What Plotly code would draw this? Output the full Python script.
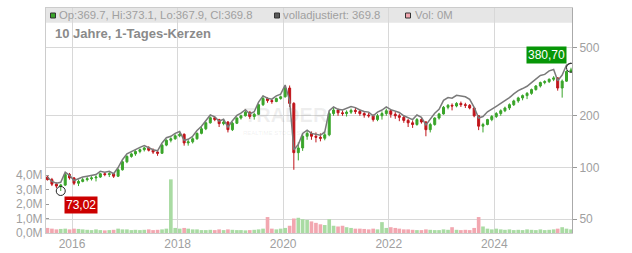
import math
import plotly.graph_objects as go

# ---------------- data (monthly) ----------------
months = [f"{y}-{m:02d}-15" for y in range(2015, 2026) for m in range(1, 13)][6:126]

open_ = [88, 85, 80, 78, 79, 91,
         87, 81, 83, 85, 86, 87, 88, 92, 91, 92, 89, 97,
         108, 116, 120, 124, 127, 130, 126, 123, 121, 135, 144, 147,
         153, 156, 139, 141, 147, 158, 168, 182, 195, 190, 180, 184,
         166, 181, 194, 200, 210, 198, 204, 232, 252, 245, 242, 252,
         258, 290, 236, 122, 130, 152, 158, 152, 150, 148, 155, 206,
         216, 208, 206, 210, 215, 212, 206, 202, 200, 190, 200, 206,
         214, 204, 200, 196, 188, 182, 178, 190, 184, 166, 178, 194,
         205, 224, 230, 228, 236, 232, 230, 222, 200, 174, 178, 190,
         198, 206, 214, 222, 232, 244, 254, 262, 270, 284, 298, 312,
         316, 326, 332, 290, 318, 362]
high = [90, 87, 82, 80, 93, 93,
        88, 85, 87, 88, 89, 90, 93, 94, 94, 93, 99, 110,
        118, 122, 126, 129, 132, 133, 129, 125, 137, 146, 150, 156,
        160, 158, 145, 150, 160, 172, 185, 198, 198, 192, 190, 186,
        184, 196, 203, 214, 212, 208, 235, 262, 256, 250, 255, 262,
        295, 300, 240, 140, 158, 165, 162, 160, 158, 160, 212, 222,
        220, 215, 215, 220, 222, 218, 210, 208, 204, 205, 212, 220,
        218, 210, 206, 200, 192, 188, 194, 196, 186, 182, 196, 208,
        228, 234, 236, 240, 242, 238, 234, 224, 202, 182, 192, 202,
        210, 218, 226, 236, 248, 258, 266, 275, 288, 302, 316, 322,
        330, 340, 336, 325, 368, 380.7]
low = [84, 78, 76, 73.02, 78, 85,
       79, 78, 82, 83, 84, 83, 87, 89, 88, 87, 88, 96,
       106, 114, 117, 121, 124, 124, 120, 117, 120, 133, 140, 145,
       150, 134, 134, 138, 145, 156, 165, 180, 186, 172, 176, 160,
       163, 179, 190, 198, 192, 190, 202, 228, 238, 235, 240, 248,
       255, 225, 97, 110, 125, 145, 145, 140, 142, 144, 152, 200,
       200, 200, 198, 205, 205, 200, 195, 195, 185, 186, 190, 200,
       195, 192, 186, 182, 172, 170, 175, 180, 152, 160, 175, 190,
       203, 218, 215, 224, 225, 222, 218, 196, 165, 160, 176, 186,
       194, 200, 210, 216, 228, 238, 246, 250, 265, 280, 292, 305,
       310, 318, 280, 255, 315, 355]
close = [85, 80, 78, 79, 91, 87,
         81, 83, 85, 86, 87, 88, 92, 91, 92, 89, 97, 108,
         116, 120, 124, 127, 130, 126, 123, 121, 135, 144, 147, 153,
         156, 139, 141, 147, 158, 168, 182, 195, 190, 180, 184, 166,
         181, 194, 200, 210, 198, 204, 232, 252, 245, 242, 252, 258,
         290, 236, 122, 130, 152, 158, 152, 150, 148, 155, 206, 216,
         208, 206, 210, 215, 212, 206, 202, 200, 190, 200, 206, 214,
         204, 200, 196, 188, 182, 178, 190, 184, 166, 178, 194, 205,
         224, 230, 228, 236, 232, 230, 222, 200, 174, 178, 190, 198,
         206, 214, 222, 232, 244, 254, 262, 270, 284, 298, 312, 316,
         326, 332, 290, 318, 362, 369.8]
adjusted = [88, 83, 81, 82, 94, 90,
            84, 86, 88, 89, 90, 91, 95, 94, 95, 92, 100, 111,
            120, 124, 128, 131, 134, 130, 127, 125, 139, 149, 152, 158,
            162, 144, 146, 152, 164, 174, 188, 202, 197, 186, 191, 172,
            187, 201, 207, 217, 205, 211, 240, 261, 253, 250, 261, 267,
            302, 245, 127, 136, 158, 165, 158, 156, 154, 161, 214, 225,
            218, 216, 220, 226, 223, 216, 212, 210, 200, 210, 216, 225,
            217, 213, 209, 200, 194, 190, 202, 196, 177, 190, 207, 218,
            246, 255, 253, 263, 260, 258, 249, 224, 194, 198, 211, 220,
            227, 236, 244, 255, 268, 280, 288, 297, 312, 328, 343, 348,
            365, 372, 320, 345, 395, 405]
volume = [0.35, 0.3, 0.25, 0.28, 0.3, 0.25,
          0.3, 0.28, 0.25, 0.22, 0.2, 0.25, 0.2, 0.18, 0.2, 0.22, 0.3, 0.25,
          0.25, 0.2, 0.22, 0.2, 0.22, 0.25, 0.2, 0.22, 0.25, 0.3, 3.7, 0.35,
          0.3, 0.35, 0.3, 0.25, 0.25, 0.2, 0.2, 0.22, 0.2, 0.25, 0.2, 0.25,
          0.22, 0.2, 0.2, 0.18, 0.2, 0.22, 0.25, 0.3, 1.1, 0.3, 0.25, 0.3,
          0.35, 0.5, 1.0, 1.05, 0.95, 0.9, 0.8, 0.7, 0.6, 0.55, 0.95, 0.5,
          0.45, 0.5, 0.4, 0.35, 0.3, 0.3, 0.28, 0.25, 0.3, 0.25, 0.75, 0.35,
          0.4, 0.35, 0.3, 0.25, 0.25, 0.22, 0.2, 0.2, 0.25, 0.22, 0.2, 0.2,
          0.25, 0.22, 0.4, 0.22, 0.2, 0.22, 0.2, 0.35, 1.1, 0.45, 0.3, 0.25,
          0.3, 0.25, 0.22, 0.25, 0.2, 0.22, 0.2, 0.25, 0.22, 0.2, 0.25, 0.2,
          0.22, 0.25, 0.3, 0.4, 0.3, 0.25]

price_ticks = [50, 100, 200, 500]
vol_ticks = [0, 1, 2, 3, 4]
vol_labels = ["0,0M", "1,0M", "2,0M", "3,0M", "4,0M"]
year_ticks = ["2016-01-01", "2018-01-01", "2020-01-01", "2022-01-01", "2024-01-01"]
legend_texts = ["Op:369.7, Hi:373.1, Lo:367.9, Cl:369.8", "volladjustiert: 369.8", "Vol: 0M"]
title_text = "10 Jahre, 1-Tages-Kerzen"
high_label = "380,70"
low_label = "73,02"

# ---------------- layout helpers ----------------
W, H = 632, 253
ML, MR, MT, MB = 46, 60, 8, 20
PW, PH = W - ML - MR, H - MT - MB


def px(x):
    return (x - ML) / PW


def py(y):
    return (H - MB - y) / PH


FONT = "Liberation Sans, Arial, sans-serif"
GREEN = "#3aa52a"
RED = "#c0141a"
VGREEN = "#a9dba3"
VPINK = "#f2a7b0"
TXT = "#a0a0a0"

vol_colors = [VGREEN if c >= o else VPINK for o, c in zip(open_, close)]

fig = go.Figure()

fig.add_trace(go.Bar(x=months, y=volume, marker_color=vol_colors, marker_line_width=0,
                     yaxis="y", hoverinfo="skip"))
fig.add_trace(go.Candlestick(x=months, open=open_, high=high, low=low, close=close, yaxis="y2",
                             increasing=dict(line=dict(color=GREEN, width=1), fillcolor=GREEN),
                             decreasing=dict(line=dict(color=RED, width=1), fillcolor=RED),
                             whiskerwidth=0, hoverinfo="skip"))
fig.add_trace(go.Scatter(x=months, y=adjusted, mode="lines", line=dict(color="#7a7a7a", width=1.5),
                         yaxis="y2", hoverinfo="skip"))

i_hi = high.index(max(high))
i_lo = low.index(min(low))
fig.add_trace(go.Scatter(x=[months[i_hi], months[i_lo]], y=[high[i_hi], low[i_lo]], mode="markers",
                         marker=dict(symbol="circle-open", size=9, color="#222", line=dict(width=1)),
                         yaxis="y2", hoverinfo="skip"))

annotations = [
    dict(x=months[i_hi], y=math.log10(high[i_hi]), xref="x", yref="y2", text=high_label,
         showarrow=False, xanchor="right", yanchor="bottom", xshift=-4, yshift=4,
         bgcolor="#079607", font=dict(color="white", size=12, family=FONT), borderpad=1),
    dict(x=months[i_lo], y=math.log10(low[i_lo]), xref="x", yref="y2", text=low_label,
         showarrow=False, xanchor="left", yanchor="top", xshift=3, yshift=-5,
         bgcolor="#cc0000", font=dict(color="white", size=12, family=FONT), borderpad=1),
    dict(x=px(53), y=py(34), xref="paper", yref="paper", text="<b>" + title_text + "</b>",
         showarrow=False, xanchor="left", yanchor="middle", font=dict(color="#8a8a8a", size=13, family=FONT)),
    dict(x=px(57), y=py(15.5), xref="paper", yref="paper", text=legend_texts[0], showarrow=False,
         xanchor="left", yanchor="middle", font=dict(color=TXT, size=11.3, family=FONT)),
    dict(x=px(281), y=py(15.5), xref="paper", yref="paper", text=legend_texts[1], showarrow=False,
         xanchor="left", yanchor="middle", font=dict(color=TXT, size=11.3, family=FONT)),
    dict(x=px(413), y=py(15.5), xref="paper", yref="paper", text=legend_texts[2], showarrow=False,
         xanchor="left", yanchor="middle", font=dict(color=TXT, size=11.3, family=FONT)),
    dict(x=px(286), y=py(115), xref="paper", yref="paper", text="<b>TRADER</b>", showarrow=False,
         xanchor="center", yanchor="middle", font=dict(color="rgba(120,120,120,0.12)", size=20, family=FONT)),
    dict(x=px(286), y=py(133), xref="paper", yref="paper", text="REALTIME STOCK SOFTWARE", showarrow=False,
         xanchor="center", yanchor="middle", font=dict(color="rgba(120,120,120,0.12)", size=6, family=FONT)),
]

shapes = [
    dict(type="rect", xref="paper", yref="paper", x0=0, x1=1, y0=py(22.7), y1=1,
         fillcolor="#e6e6e6", line_width=0, layer="below"),
    dict(type="rect", xref="paper", yref="paper", x0=px(50.5), x1=px(55.5), y0=py(18), y1=py(13),
         fillcolor="#3aa52a", line=dict(color="#333", width=1)),
    dict(type="rect", xref="paper", yref="paper", x0=px(274.5), x1=px(279.5), y0=py(18), y1=py(13),
         fillcolor="#5a5a5a", line=dict(color="#333", width=1)),
    dict(type="rect", xref="paper", yref="paper", x0=px(405.5), x1=px(410.5), y0=py(18), y1=py(13),
         fillcolor="#f2a7b0", line=dict(color="#333", width=1)),
]

fig.update_layout(
    width=W, height=H, margin=dict(l=ML, r=MR, t=MT, b=MB, autoexpand=False),
    paper_bgcolor="white", plot_bgcolor="rgba(0,0,0,0)",
    showlegend=False, bargap=0.1,
    font=dict(family=FONT, color=TXT, size=12),
    annotations=annotations, shapes=shapes,
    xaxis=dict(type="date", range=["2015-07-05", "2025-06-22"], tickvals=year_ticks, tickformat="%Y",
               showgrid=True, gridcolor="#d8d8d8", gridwidth=1, showline=True, mirror=True,
               linecolor="#cccccc", ticks="", rangeslider=dict(visible=False), automargin=False,
               tickfont=dict(size=12, color=TXT), zeroline=False),
    yaxis=dict(side="left", range=[0, PH / 14.5], tickvals=vol_ticks, ticktext=vol_labels,
               showgrid=False, zeroline=False, showline=True, linecolor="#cccccc", automargin=False,
               ticks="inside", ticklen=3, tickcolor="#999999", tickfont=dict(size=12, color=TXT)),
    yaxis2=dict(side="right", overlaying="y", type="log", range=[1.619, 2.928], tickvals=price_ticks,
                showgrid=True, gridcolor="#d8d8d8", zeroline=False, showline=True, linecolor="#aaaaaa",
                automargin=False, ticks="outside", ticklen=4, tickcolor="#999999",
                tickfont=dict(size=12, color=TXT)),
)

fig.write_html("out.html")
